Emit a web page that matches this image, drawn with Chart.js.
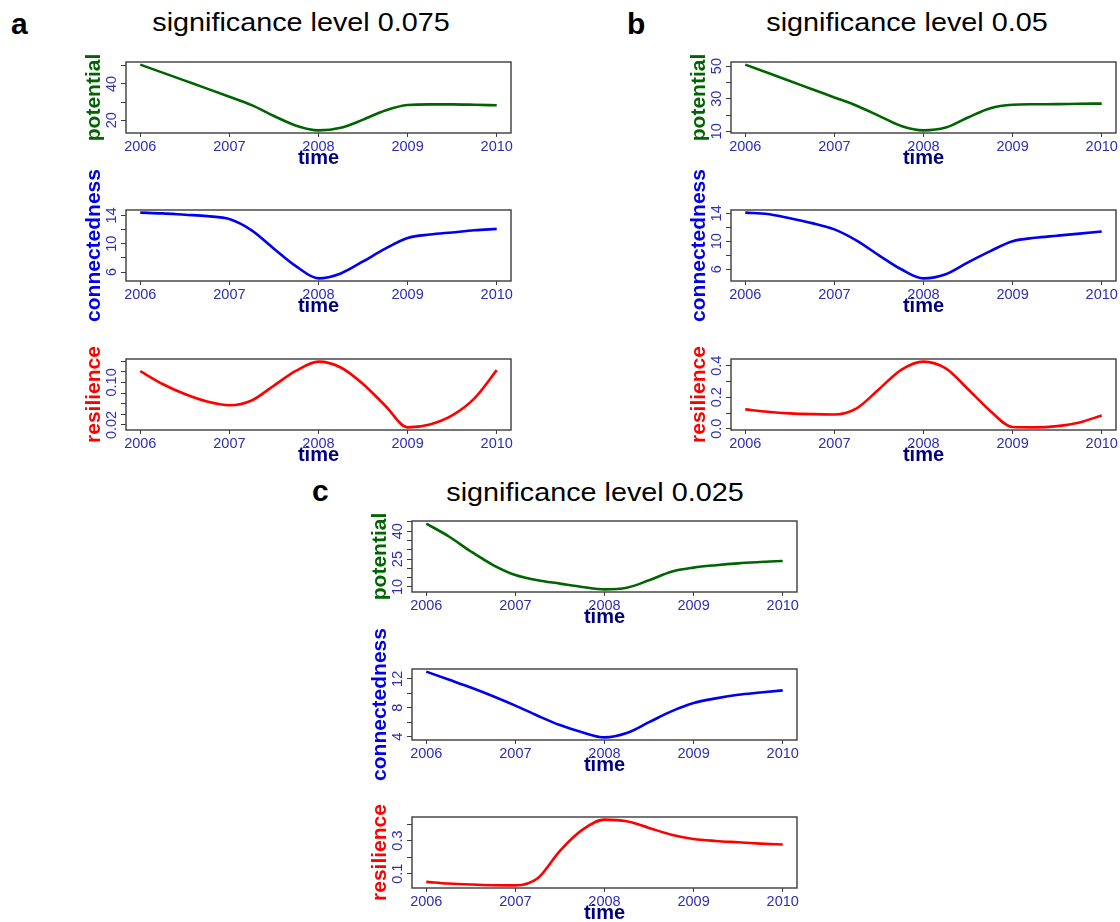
<!DOCTYPE html>
<html lang="en">
<head>
<meta charset="UTF-8">
<title>significance level panels</title>
<script src="https://cdn.jsdelivr.net/npm/chart.js"></script>
<style>
  body { margin: 0; background: #fff; width: 1120px; height: 922px; position: relative; overflow: hidden;
         font-family: "Liberation Sans", Arial, sans-serif; }
  .letter { position: absolute; font-weight: bold; font-size: 30px; line-height: 1; color: #000; }
  .head { position: absolute; font-size: 25px; line-height: 1; color: #000; white-space: nowrap;
          transform: translateX(-50%) scaleX(1.15); }
  canvas { position: absolute; }
</style>
</head>
<body>
<div class="letter" style="left:11px;top:9px">a</div>
<div class="head" style="left:301px;top:10px">significance level 0.075</div>
<div class="letter" style="left:627px;top:9px">b</div>
<div class="head" style="left:907px;top:10px">significance level 0.05</div>
<div class="letter" style="left:312px;top:476px">c</div>
<div class="head" style="left:595px;top:480px">significance level 0.025</div>

<canvas id="potA" width="459" height="206" style="left:66px;top:12px"></canvas>
<canvas id="conA" width="459" height="206" style="left:66px;top:160px"></canvas>
<canvas id="resA" width="459" height="206" style="left:66px;top:309px"></canvas>
<canvas id="potB" width="459" height="206" style="left:671px;top:12px"></canvas>
<canvas id="conB" width="459" height="206" style="left:671px;top:160px"></canvas>
<canvas id="resB" width="459" height="206" style="left:671px;top:309px"></canvas>
<canvas id="potC" width="459" height="206" style="left:352px;top:471px"></canvas>
<canvas id="conC" width="459" height="206" style="left:352px;top:619px"></canvas>
<canvas id="resC" width="459" height="206" style="left:352px;top:767px"></canvas>

<script>
  // time axis (quarter years)
  const years = [2006, 2006.25, 2006.5, 2006.75, 2007, 2007.25, 2007.5, 2007.75, 2008,
                 2008.25, 2008.5, 2008.75, 2009, 2009.25, 2009.5, 2009.75, 2010];
  const yearTicks = [2006, 2007, 2008, 2009, 2010];
  const yearLabels = ['2006', '2007', '2008', '2009', '2010'];

  // a: significance level 0.075
  const potentialA = [50.6, 46.2, 41.8, 37.4, 32.9, 28.3, 22.3, 17.0, 14.4, 15.8, 20.3, 25.4, 28.4, 28.7, 28.7, 28.5, 28.2];
  const connectA = [14.4, 14.3, 14.1, 13.9, 13.5, 11.9, 9.3, 6.8, 5.1, 5.8, 7.5, 9.3, 10.8, 11.3, 11.6, 11.9, 12.1];
  const resilA = [0.121, 0.097, 0.078, 0.064, 0.057, 0.066, 0.094, 0.122, 0.139, 0.128, 0.097, 0.056, 0.0154, 0.021, 0.038, 0.070, 0.123];

  // b: significance level 0.05
  const potentialB = [50.9, 45.9, 40.9, 35.8, 30.8, 25.7, 19.5, 13.3, 10.6, 12.3, 18.5, 24.2, 26.3, 26.6, 26.7, 26.9, 27.0];
  const connectB = [14.1, 13.9, 13.3, 12.6, 11.7, 10.1, 8.0, 6.0, 4.7, 5.3, 7.0, 8.6, 10.0, 10.5, 10.8, 11.1, 11.4];
  const resilB = [0.123, 0.108, 0.098, 0.093, 0.091, 0.130, 0.251, 0.374, 0.426, 0.383, 0.251, 0.113, 0.011, 0.009, 0.017, 0.040, 0.085];

  // c: significance level 0.025
  const potentialC = [44.1, 37.3, 29.1, 21.8, 16.4, 13.6, 11.8, 10.0, 8.7, 9.6, 13.6, 18.2, 20.4, 21.7, 22.7, 23.4, 24.0];
  const connectC = [13.0, 11.9, 10.8, 9.6, 8.3, 6.9, 5.6, 4.6, 3.9, 4.5, 6.0, 7.5, 8.65, 9.3, 9.8, 10.1, 10.4];
  const resilC = [0.050, 0.040, 0.034, 0.030, 0.029, 0.072, 0.238, 0.365, 0.427, 0.417, 0.377, 0.336, 0.310, 0.298, 0.290, 0.282, 0.276];

  // y tick marks and the labels R kept
  const potTicksA = [20, 30, 40, 50];                 const potLabelsA = ['20', '', '40', ''];
  const conTicksA = [6, 8, 10, 12, 14];               const conLabelsA = ['6', '', '10', '', '14'];
  const resTicksA = [0.02, 0.04, 0.06, 0.08, 0.10, 0.12, 0.14];
  const resLabelsA = ['0.02', '', '', '', '0.10', '', ''];
  const potTicksB = [10, 20, 30, 40, 50];             const potLabelsB = ['10', '', '30', '', '50'];
  const conTicksB = [6, 8, 10, 12, 14];               const conLabelsB = ['6', '', '10', '', '14'];
  const resTicksB = [0, 0.1, 0.2, 0.3, 0.4];          const resLabelsB = ['0.0', '', '0.2', '', '0.4'];
  const potTicksC = [10, 15, 20, 25, 30, 35, 40, 45]; const potLabelsC = ['10', '', '', '25', '', '', '40', ''];
  const conTicksC = [4, 6, 8, 10, 12];                const conLabelsC = ['4', '', '8', '', '12'];
  const resTicksC = [0.1, 0.2, 0.3, 0.4];             const resLabelsC = ['0.1', '', '0.3', ''];

  const FONT = '"Liberation Sans", Arial, sans-serif';
  const TICK_COLOR = '#2e2eb0';
  const TICK_SIZE = 14.5;

  // draw the full R-style box round the plot region
  const boxPlugin = {
    id: 'rbox',
    afterDraw(chart) {
      const a = chart.chartArea, ctx = chart.ctx;
      ctx.save();
      ctx.strokeStyle = '#3c3c3c';
      ctx.lineWidth = 1.4;
      ctx.strokeRect(a.left, a.top, a.right - a.left, a.bottom - a.top);
      ctx.restore();
    }
  };

  const measure = document.createElement('canvas').getContext('2d');
  measure.font = TICK_SIZE + 'px ' + FONT;

  function makePlot(id, values, color, label, ticks, labels) {
    const lo = Math.min(...values), hi = Math.max(...values), r = hi - lo;
    const widest = Math.max(...labels.map(l => measure.measureText(l).width));
    new Chart(document.getElementById(id), {
      type: 'line',
      data: {
        datasets: [{
          data: values.map((v, i) => ({ x: years[i], y: v })),
          borderColor: color,
          borderWidth: 2.6,
          pointRadius: 0,
          fill: false,
          cubicInterpolationMode: 'monotone'
        }]
      },
      options: {
        responsive: false,
        animation: false,
        events: [],
        layout: { padding: { left: 0, top: 50, right: 14, bottom: 40 } },
        plugins: { legend: { display: false }, tooltip: { enabled: false } },
        scales: {
          x: {
            type: 'linear',
            min: 2006 - 0.16, max: 2010 + 0.16,
            afterBuildTicks: s => { s.ticks = yearTicks.map(v => ({ value: v })); },
            afterFit: s => { s.height = 45; },
            grid: { drawOnChartArea: false, drawTicks: true, tickLength: 4, color: '#3c3c3c' },
            border: { display: false },
            ticks: {
              color: TICK_COLOR, font: { family: FONT, size: TICK_SIZE }, padding: 1,
              maxRotation: 0, minRotation: 0, autoSkip: false,
              callback: (v, i) => yearLabels[i]
            },
            title: {
              display: true, text: 'time', color: '#00007f',
              font: { family: FONT, size: 20, weight: 'bold', lineHeight: 1 },
              padding: { top: 0, bottom: 10 }
            }
          },
          y: {
            type: 'linear',
            min: lo - 0.04 * r, max: hi + 0.04 * r,
            afterBuildTicks: s => { s.ticks = ticks.map(v => ({ value: v })); },
            afterFit: s => { s.width = 60; },
            grid: { drawOnChartArea: false, drawTicks: true, tickLength: 5, color: '#3c3c3c' },
            border: { display: false },
            ticks: {
              color: TICK_COLOR, font: { family: FONT, size: TICK_SIZE },
              minRotation: 90, maxRotation: 90, crossAlign: 'center', autoSkip: false,
              padding: 9 - widest / 2,
              callback: (v, i) => labels[i]
            },
            title: {
              display: true, text: label, color: color,
              font: { family: FONT, size: 21, weight: 'bold', lineHeight: 1 },
              padding: { top: 17.5, bottom: 0 }
            }
          }
        }
      },
      plugins: [boxPlugin]
    });
  }

  const GREEN = '#006400', BLUE = '#0000ee', RED = '#ff0000';

  makePlot('potA', potentialA, GREEN, 'potential', potTicksA, potLabelsA);
  makePlot('conA', connectA, BLUE, 'connectedness', conTicksA, conLabelsA);
  makePlot('resA', resilA, RED, 'resilience', resTicksA, resLabelsA);
  makePlot('potB', potentialB, GREEN, 'potential', potTicksB, potLabelsB);
  makePlot('conB', connectB, BLUE, 'connectedness', conTicksB, conLabelsB);
  makePlot('resB', resilB, RED, 'resilience', resTicksB, resLabelsB);
  makePlot('potC', potentialC, GREEN, 'potential', potTicksC, potLabelsC);
  makePlot('conC', connectC, BLUE, 'connectedness', conTicksC, conLabelsC);
  makePlot('resC', resilC, RED, 'resilience', resTicksC, resLabelsC);
</script>
</body>
</html>
